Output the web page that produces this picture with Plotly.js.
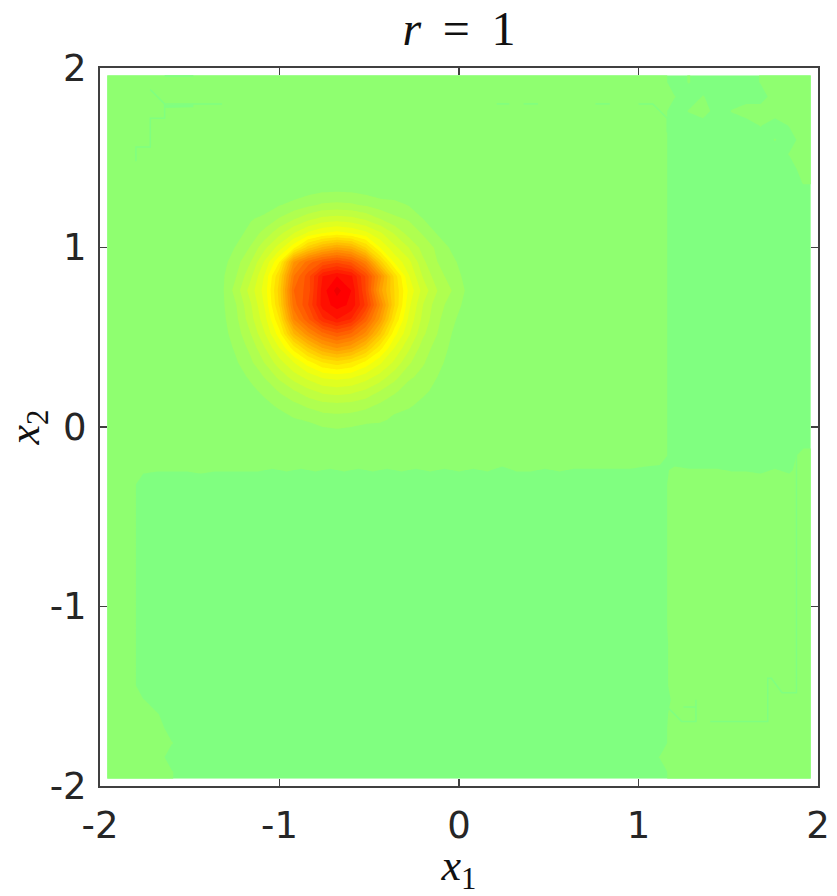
<!DOCTYPE html>
<html>
<head>
<meta charset="utf-8">
<script src="https://cdn.plot.ly/plotly-3.0.1.min.js"></script>
<style>html,body{margin:0;padding:0;background:#fff}</style>
</head>
<body>
<div id="chart" style="width:837px;height:896px"></div>
<script>
// Node positions of the two plateaus field (cell centres plus the field edges)
const plateauX = [-1.96,-1.92,-1.84,-1.76,-1.68,-1.6,-1.52,-1.44,-1.36,-1.28,-1.2,-1.12,-1.04,-0.96,-0.88,-0.8,-0.72,-0.64,-0.56,-0.48,-0.4,-0.32,-0.24,-0.16,-0.08,0,0.08,0.16,0.24,0.32,0.4,0.48,0.56,0.64,0.72,0.8,0.88,0.96,1.04,1.12,1.2,1.28,1.36,1.44,1.52,1.6,1.68,1.76,1.84,1.92,1.96];
const plateauY = plateauX.slice();

// Plateau field, read top row first: 0 = cool band, 9 = warm band, others = on the band edge
const W = '9'.repeat(39);
const C = '9' + '9' + '0'.repeat(37);
const T = '9999999999';
const plateauRows = [
  W+'0500005999', W+'5050000999', W+'0590599999', W+'0000005059', W+'0000000509',
  W+'0000000059', W+'0000000009', W+'0000000005',
  W+'0000000000', W+'0000000000', W+'0000000000', W+'0000000000', W+'0000000000', W+'0000000000',
  W+'0000000000', W+'0000000000', W+'0000000000', W+'0000000000', W+'0000000000', W+'0000000000',
  W+'0000000000', W+'0000000000', W+'0000000000', W+'0000000000', W+'0000000000', W+'0000000000',
  W+'0000000009',
  '99'+'6555655554545454545454545'+'3'+'554544444'+'32'+'6555443539',
  C+T, C+T, C+T, C+T, C+T, C+T, C+T, C+T, C+T, C+T, C+T,
  C+'8999999999', C+'8999999999', C+'8999999999', C+'8999999999',
  '995'+'0'.repeat(36)+'6999999999',
  '9995'+'0'.repeat(35)+'8999999999',
  '9999'+'0'.repeat(35)+T,
  '99995'+'0'.repeat(34)+T,
  '9999'+'0'.repeat(34)+'5'+T,
  '99995'+'0'.repeat(34)+T
];

// Peak field, node positions and colour level at each node
const peakX = [-1.32,-1.24,-1.16,-1.08,-1,-0.92,-0.84,-0.76,-0.68,-0.6,-0.52,-0.44,-0.36,-0.28,-0.2,-0.12,-0.04,0.04];
const peakY = [1.32,1.24,1.16,1.08,1,0.92,0.84,0.76,0.68,0.6,0.52,0.44,0.36,0.28,0.2,0.12,0.04,-0.04];
const peakRows = [
  [1,1,1,1,1,1.3,1.6,1.8, 1.85, 1.8,1.6,1.4,1.1,1,1,1,1,1],
  [1,1,1,1.4,1.9,2.3,2.7,3.1, 3.2, 3.1,2.8,2.4,2.4,1.9,1,1,1,1],
  [1,1,1.9,2.3,3.1,3.9,4.7,5.3, 5.5, 5.3,4.8,4,3.2,2.9,2,1.3,1,1],
  [1,1.6,2.4,3.4,4.7,6,7.2,8, 8.4, 8,7.3,6.2,4.9,3.6,2.9,1.9,1,1],
  [1.3,2.1,3.1,4.8,6.5,8.7,11.5,13.2, 14.1, 13.4,11,8,6.3,5,3.6,2.8,1.8,1],
  [1.6,2.6,4,6.2,9,15,17.5,19, 19.7, 18.8,16.2,11.5,7.8,6.3,4.2,3,2.3,1.4],
  [1.8,3,4.8,7.2,11,17,19.6,23, 24, 23.2,19.9,15.5,10.7,7.1,4.9,3.4,2.6,1.7],
  [1.8,3.5,5.5,7.5,11.5,18,19.5,23.5, 25.4, 24,20,14.5,11,7.8,5.6,4,3,1.9],
  [1.8,3,4.9,7.2,11.2,17.5,20,23.5, 24.4, 23.8,20.8,16,11.1,7.3,5,3.4,2.6,1.7],
  [1.7,2.8,4.6,6.7,10,16,18.8,21.7, 23, 21.9,18.5,14.7,10,6.8,4.7,3.2,2.3,1.3],
  [1.6,2.5,4,6,8.6,13,15.7,17.7, 18.8, 17.9,15.7,12.2,8.4,6.2,4.2,3,2,1],
  [1.4,2.2,3.3,5,7,9.5,12,14, 15, 14.2,12.2,9.4,7,5.2,3.5,2.6,1.8,1],
  [1.1,1.9,2.8,4.1,5.6,7,8.6,10, 10.6, 10,8.7,7.2,5.8,4.2,3.1,2.4,1.5,1],
  [1,1.5,2.2,3.1,4.3,5.5,6.4,7.2, 7.4, 7.2,6.5,5.6,4.4,3.2,2.7,2,1,1],
  [1,1.1,1.7,2.3,3.1,3.9,4.7,5.3, 5.5, 5.3,4.8,4,3.2,2.5,2.3,1.6,1,1],
  [1,1,1.1,1.7,2.2,2.7,3.2,3.6, 3.7, 3.6,3.3,2.8,2.3,2.2,1.6,1,1,1],
  [1,1,1,1.1,1.5,1.9,2.1,2.4, 2.5, 2.4,2.2,2.2,1.8,1.3,1,1,1,1],
  [1,1,1,1,1,1.2,1.4,1.6, 1.7, 1.6,1.5,1.25,1,1,1,1,1,1]
];

// Colour of each level band above the warm plateau (level 2 to level 25)
const peakColors = ['#9FFF60','#AFFF50','#BFFF40','#CFFF30','#DFFF20','#EFFF10','#FFFF00',
  '#FFEF00','#FFDF00','#FFCF00','#FFBF00','#FFAF00','#FF9F00','#FF8F00','#FF8000','#FF7000',
  '#FF6000','#FF5000','#FF4000','#FF3000','#FF2000','#FF1000','#FF0000','#EF0000'];
const coolColor = '#80FF80';
const warmColor = '#8FFF70';

// Faint one-cell-wide ridges in the plateau field
const ridgeX = [-1.72,-1.64,-1.32,null,-1.64,-1.64,-1.72,-1.72,-1.8,-1.8,null,-1.64,-1.48,null,
  0.21,0.28,null,0.36,0.44,null,0.76,0.84,null,1,1.08,1.16,1.16,null,
  1.16,1.24,1.32,1.32,null,1.25,1.32,null,1.4,1.72,1.72,1.74,1.8,1.88,1.88];
const ridgeY = [1.88,1.8,1.8,null,1.8,1.72,1.72,1.56,1.56,1.48,null,1.955,1.955,null,
  1.8,1.8,null,1.8,1.8,null,1.8,1.8,null,1.8,1.8,1.72,1.64,null,
  -1.56,-1.64,-1.64,-1.52,null,-1.56,-1.56,null,-1.64,-1.64,-1.4,-1.4,-1.48,-1.48,-0.12];
const patchX = [-1.64,-1.48];
const patchY = [1.785,1.79];

const tickVals = [-2,-1,0,1,2];
const tickText = ['-2','-1','0','1','2'];

// Build the traces
const rowsBottomUp = plateauRows.map(s => s.split('').map(Number)).reverse();
const padded = rowsBottomUp.map(r => [r[0]].concat(r, [r[r.length-1]]));
const plateauZ = [padded[0]].concat(padded, [padded[padded.length-1]]);
const plateauTrace = {
  type: 'contour', x: plateauX, y: plateauY, z: plateauZ,
  autocontour: false, zauto: false, zmin: 0, zmax: 9,
  contours: {start: 4.5, end: 4.5, size: 1, coloring: 'fill', showlines: false},
  line: {width: 0, smoothing: 0}, showscale: false, hoverinfo: 'skip',
  colorscale: [[0, coolColor], [0.5, coolColor], [0.5, warmColor], [1, warmColor]]
};

const stops = [[0, 'rgba(143,255,112,0)'], [1/25, 'rgba(143,255,112,0)']];
peakColors.forEach((c, i) => { stops.push([(i+1)/25, c]); stops.push([(i+2)/25, c]); });
const peakTrace = {
  type: 'contour', x: peakX, y: peakY.slice().reverse(), z: peakRows.slice().reverse(),
  autocontour: false, zauto: false, zmin: 1, zmax: 26,
  contours: {start: 2, end: 25, size: 1, coloring: 'fill', showlines: false},
  line: {width: 0, smoothing: 0}, showscale: false, hoverinfo: 'skip', colorscale: stops
};

const ridgeTrace = {type: 'scatter', mode: 'lines', x: ridgeX, y: ridgeY, hoverinfo: 'skip',
  line: {color: coolColor, width: 1.5}, showlegend: false};
const patchTrace = {type: 'scatter', mode: 'lines', x: patchX, y: patchY, hoverinfo: 'skip',
  line: {color: coolColor, width: 3}, showlegend: false};

const axisBase = {
  range: [-2, 2], tickmode: 'array', tickvals: tickVals, ticktext: tickText,
  ticks: 'inside', ticklen: 7, tickwidth: 1.5, tickcolor: '#404040',
  showline: true, linecolor: '#404040', linewidth: 2, mirror: 'allticks',
  showgrid: false, zeroline: false, automargin: false,
  tickfont: {family: 'DejaVu Sans', size: 37, color: '#262626'}
};

const layout = {
  width: 837, height: 896, autosize: false,
  margin: {l: 100, r: 19, t: 68, b: 110},
  paper_bgcolor: '#ffffff', plot_bgcolor: '#ffffff', showlegend: false,
  title: {text: '<i>r</i>&#8201; = &#8201;1', x: 0.5, xref: 'paper', y: 0.968, yanchor: 'middle',
    font: {family: 'Liberation Serif', size: 48, color: '#111111'}},
  xaxis: Object.assign({}, axisBase, {ticklabelstandoff: 6,
    title: {text: '<i>x</i><sub>1</sub>', standoff: 6,
      font: {family: 'Liberation Serif', size: 44, color: '#111111'}}}),
  yaxis: Object.assign({}, axisBase, {ticklabelstandoff: 4,
    title: {text: '<i>x</i><sub>2</sub>', standoff: 13,
      font: {family: 'Liberation Serif', size: 44, color: '#111111'}}})
};

Plotly.newPlot('chart', [plateauTrace, peakTrace, patchTrace, ridgeTrace], layout,
  {displayModeBar: false, staticPlot: true});
</script>
</body>
</html>
